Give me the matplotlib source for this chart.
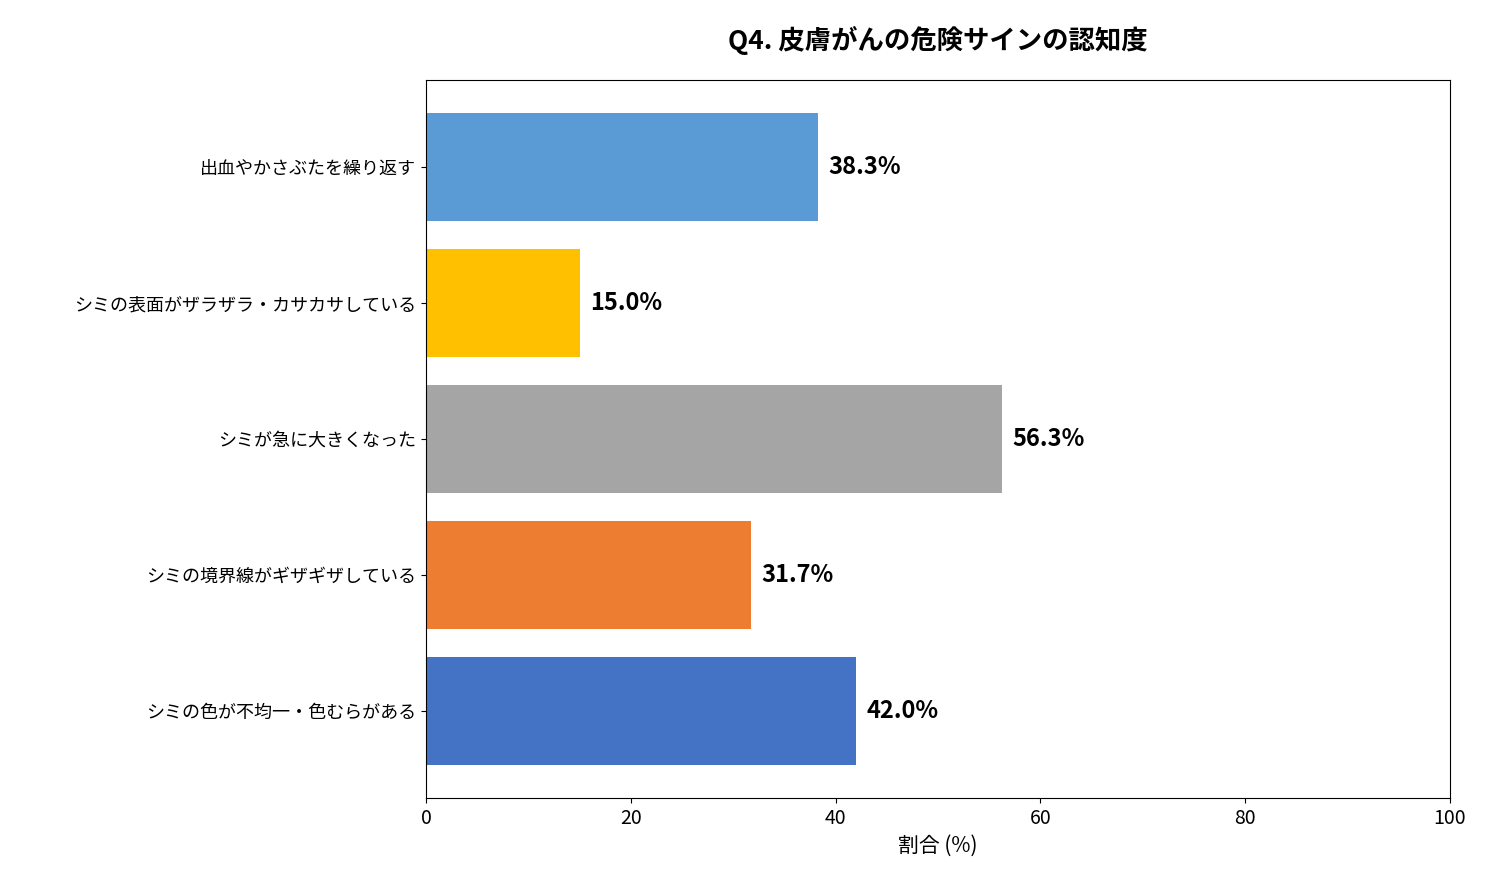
import matplotlib
matplotlib.use("Agg")
import matplotlib.pyplot as plt

plt.rcParams['font.family'] = ['Noto Sans CJK JP', 'DejaVu Sans']

# data (top to bottom as shown)
labels = ["出血やかさぶたを繰り返す", "シミの表面がザラザラ・カサカサしている",
          "シミが急に大きくなった", "シミの境界線がギザギザしている",
          "シミの色が不均一・色むらがある"]
values = [38.3, 15.0, 56.3, 31.7, 42.0]
colors = ["#5B9BD5", "#FFC000", "#A5A5A5", "#ED7D31", "#4472C4"]

fig = plt.figure(figsize=(14.86, 8.81), dpi=100)
ax = fig.add_axes([0.2867, 0.0942, 0.689, 0.815])

ypos = list(range(len(labels)))[::-1]
ax.barh(ypos, values, color=colors, height=0.8)
for y, v in zip(ypos, values):
    ax.text(v + 1, y, f"{v:.1f}%", va="center", ha="left",
            fontsize=17, fontweight="bold")

ax.set_yticks(ypos)
ax.set_yticklabels(labels, fontsize=13)
ax.set_xlim(0, 100)
ax.tick_params(axis="x", labelsize=14)
ax.set_xlabel("割合 (%)", fontsize=15)
ax.set_title("Q4. 皮膚がんの危険サインの認知度", fontsize=19, fontweight="bold", pad=22)

fig.savefig("out.png", dpi=100)
